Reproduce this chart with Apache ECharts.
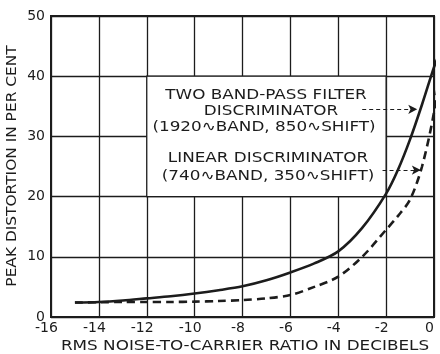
<!DOCTYPE html>
<html>
<head>
<meta charset="utf-8">
<script src="https://cdn.jsdelivr.net/npm/echarts@6/dist/echarts.min.js"></script>
<style>
  html, body { margin: 0; padding: 0; background: #fff; }
  #chart { width: 440px; height: 354px; }
</style>
</head>
<body>
<div id="chart"></div>
<script>
// rms noise-to-carrier ratio (dB) against peak distortion (%)
const bandPassDb = [-15, -14, -13, -12, -11, -10, -9, -8, -7, -6, -5, -4, -3, -2, -1.5, -1, -0.5, 0, 0.15];
const bandPassPct = [2.4, 2.5, 2.75, 3.1, 3.45, 3.9, 4.45, 5.1, 6.1, 7.4, 8.9, 10.9, 14.8, 20.5, 24.5, 29.5, 35.3, 41.5, 43];
const linearDb = [-15, -14, -13, -12, -11, -10, -9, -8, -7, -6, -5, -4, -3, -2, -1.5, -1, -0.5, 0, 0.3];
const linearPct = [2.4, 2.45, 2.5, 2.5, 2.5, 2.55, 2.65, 2.8, 3.1, 3.65, 5.0, 6.7, 10, 14.5, 16.8, 19.5, 25, 34, 43];

// blank panel behind the labels, and the two pointer arrows (data units)
const labelBox = [[-12, 40], [-2, 20]];
const arrowBandPass = [[-3.0, 34.5], [-0.7, 34.5]];
const arrowLinear = [[-2.15, 24.4], [-0.55, 24.4]];

const labelLines = [
  'TWO BAND-PASS FILTER',
  'DISCRIMINATOR',
  '(1920\u223FBAND, 850\u223FSHIFT)',
  'LINEAR DISCRIMINATOR',
  '(740\u223FBAND, 350\u223FSHIFT)'
];
const xTitle = 'RMS NOISE-TO-CARRIER RATIO IN DECIBELS';
const yTitle = 'PEAK DISTORTION IN PER CENT';

const ink = '#1c1c1c';
const font = 'DejaVu Sans';

function pairs(xs, ys) {
  return xs.map((x, i) => [x, ys[i]]);
}

function textEl(t, x, y, opts) {
  return Object.assign({
    type: 'text',
    x: x,
    y: y,
    z: 10,
    silent: true,
    style: {
      text: t,
      fontFamily: font,
      fontSize: 14,
      fill: ink,
      align: 'center',
      verticalAlign: 'middle',
      textAlign: 'center',
      textVerticalAlign: 'middle'
    }
  }, opts);
}

const chart = echarts.init(document.getElementById('chart'), null, { renderer: 'canvas' });

const linePos = [[266, 95], [271, 111], [264, 127], [268, 158], [268, 176]];

const graphics = labelLines.map((t, i) => textEl(t, linePos[i][0], linePos[i][1], { scaleX: 1.2 }));
graphics.push(textEl(xTitle, 245, 346, { scaleX: 1.2 }));
graphics.push(textEl(yTitle, 12, 166, { scaleX: 1.1, rotation: Math.PI / 2 }));

const option = {
  backgroundColor: '#ffffff',
  animation: false,
  grid: {
    left: 51,
    right: 6,
    top: 16,
    bottom: 37,
    outerBoundsMode: 'none',
    containLabel: false,
    show: true,
    borderColor: ink,
    borderWidth: 2
  },
  xAxis: {
    type: 'value',
    min: -16,
    max: 0,
    interval: 2,
    axisLine: { lineStyle: { color: ink, width: 2 } },
    axisTick: { show: false },
    axisLabel: { fontFamily: font, fontSize: 14, color: ink, margin: 4, padding: [0, 9, 0, 0] },
    splitLine: { lineStyle: { color: ink, width: 1.3 } }
  },
  yAxis: {
    type: 'value',
    min: 0,
    max: 50,
    interval: 10,
    axisLine: { lineStyle: { color: ink, width: 2 } },
    axisTick: { show: false },
    axisLabel: { fontFamily: font, fontSize: 14, color: ink, margin: 6, padding: [3, 0, 0, 0] },
    splitLine: { lineStyle: { color: ink, width: 1.3 } }
  },
  series: [
    {
      type: 'line',
      z: 1,
      data: [],
      silent: true,
      markArea: {
        silent: true,
        label: { show: false },
        itemStyle: { color: '#ffffff', borderColor: ink, borderWidth: 1.3 },
        data: [[{ coord: labelBox[0] }, { coord: labelBox[1] }]]
      }
    },
    {
      name: 'two band-pass',
      type: 'line',
      z: 3,
      data: pairs(bandPassDb, bandPassPct),
      showSymbol: false,
      smooth: 0.3,
      clip: false,
      lineStyle: { color: ink, width: 2.6 }
    },
    {
      name: 'linear',
      type: 'line',
      z: 3,
      data: pairs(linearDb, linearPct),
      showSymbol: false,
      smooth: 0.3,
      clip: false,
      lineStyle: { color: ink, width: 2.6, type: [8, 5] }
    },
    {
      type: 'line',
      z: 4,
      data: [],
      silent: true,
      markLine: {
        silent: true,
        symbol: ['none', 'arrow'],
        symbolSize: [7, 9],
        label: { show: false },
        lineStyle: { color: ink, width: 1, type: [4, 3] },
        data: [
          [{ coord: arrowBandPass[0] }, { coord: arrowBandPass[1] }],
          [{ coord: arrowLinear[0] }, { coord: arrowLinear[1] }]
        ]
      }
    }
  ],
  graphic: graphics
};

chart.setOption(option);
</script>
</body>
</html>
